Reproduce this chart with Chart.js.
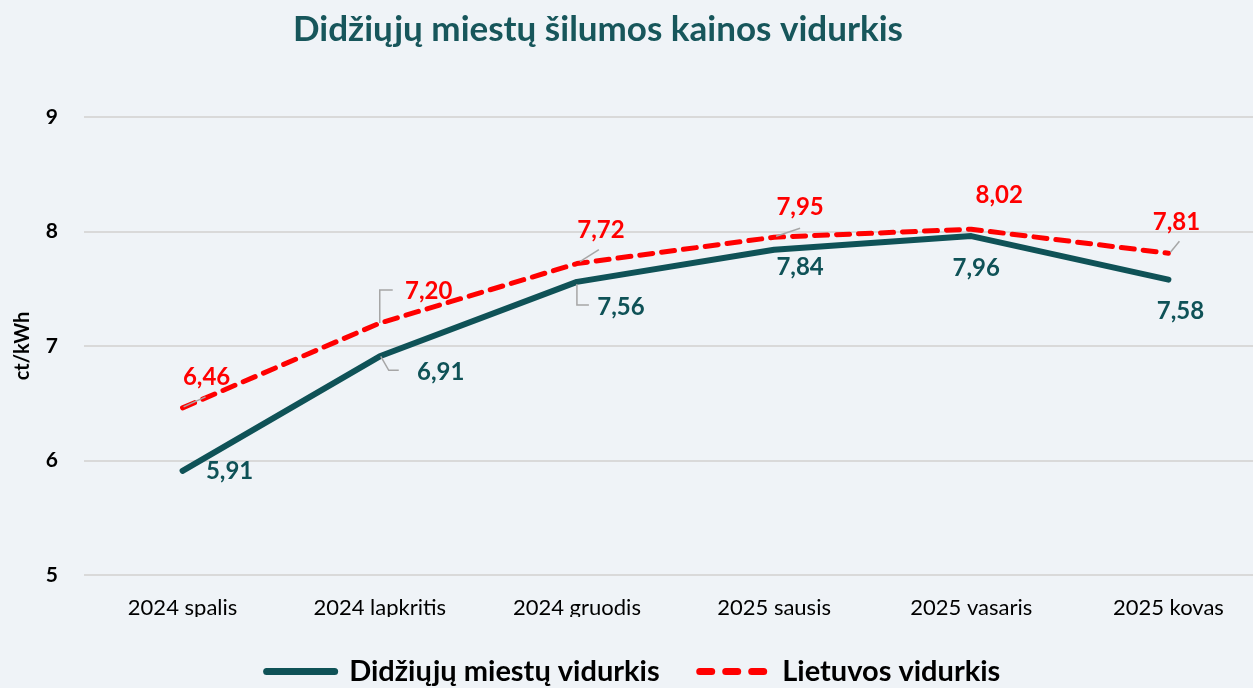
<!DOCTYPE html>
<html lang="lt">
<head>
<meta charset="utf-8">
<title>Didžiųjų miestų šilumos kainos vidurkis</title>
<script src="https://cdn.jsdelivr.net/npm/chart.js@4.4.1/dist/chart.umd.min.js"></script>
<style>
  html, body { margin: 0; padding: 0; background: #eff3f7; overflow: hidden; }
  #wrap { position: relative; width: 1267px; height: 688px; }
</style>
</head>
<body>
<div id="wrap"><canvas id="myChart"></canvas></div>
<script>
const categories = ['2024 spalis', '2024 lapkritis', '2024 gruodis', '2025 sausis', '2025 vasaris', '2025 kovas']
const bigCities = [5.91, 6.91, 7.56, 7.84, 7.96, 7.58]
const lithuania = [6.46, 7.2, 7.72, 7.95, 8.02, 7.81]
const yMin = 5
const yMax = 9

const TEAL = '#0f5257'
const RED = '#ff0000'
const FONT = 'Lato, Carlito, Calibri, sans-serif'

// label centre offsets from the point, and leader lines (null = none)
const tealLabelOffsets = [[47, 0], [61, 16], [44, 25], [26, 17], [5, 32], [12, 32]]
const tealLeaders = [null, [[1, 0], [9, 14], [19, 14]], [[0, 2], [0, 23], [12, 23]], null, null, null]
const redLabelOffsets = [[24, -31], [49, -32], [24, -33], [26, -30], [28, -34], [8, -31]]
const redLeaders = [[[1, -1], [23, -11]], [[0, 0], [0, -33], [13, -33]], [[3, -2], [22, -14]], [[2, -1], [26, -9]], null, [[2, -1], [11, -12]]]

const fmt = v => v.toFixed(2).replace('.', ',')

const titlePlugin = {
  id: 'customTitle',
  afterDraw(chart) {
    const ctx = chart.ctx
    ctx.save()
    ctx.font = 'bold 35px ' + FONT
    ctx.fillStyle = '#17565b'
    ctx.textAlign = 'center'
    ctx.textBaseline = 'middle'
    ctx.fillText('Didžiųjų miestų šilumos kainos vidurkis', 598, 30)
    ctx.restore()
  },
}

const labelPlugin = {
  id: 'valueLabels',
  afterDatasetsDraw(chart) {
    const ctx = chart.ctx
    const setups = [
      { offsets: tealLabelOffsets, leaders: tealLeaders, color: TEAL },
      { offsets: redLabelOffsets, leaders: redLeaders, color: RED },
    ]
    chart.data.datasets.forEach((ds, di) => {
      const meta = chart.getDatasetMeta(di)
      const s = setups[di]
      meta.data.forEach((pt, i) => {
        const lead = s.leaders[i]
        ctx.save()
        if (lead) {
          ctx.strokeStyle = '#a6a6a6'
          ctx.lineWidth = 1.5
          ctx.beginPath()
          lead.forEach(([dx, dy], k) => {
            if (k === 0) ctx.moveTo(pt.x + dx, pt.y + dy)
            else ctx.lineTo(pt.x + dx, pt.y + dy)
          })
          ctx.stroke()
        }
        ctx.font = 'bold 24px ' + FONT
        ctx.fillStyle = s.color
        ctx.textAlign = 'center'
        ctx.textBaseline = 'middle'
        const [ox, oy] = s.offsets[i]
        ctx.fillText(fmt(ds.data[i]), pt.x + ox, pt.y + oy)
        ctx.restore()
      })
    })
  },
}

new Chart(document.getElementById('myChart'), {
  type: 'line',
  data: {
    labels: categories,
    datasets: [
      {
        label: 'Didžiųjų miestų vidurkis',
        data: bigCities,
        borderColor: TEAL,
        backgroundColor: TEAL,
        borderWidth: 6,
        borderCapStyle: 'round',
        borderJoinStyle: 'round',
        pointRadius: 0,
        tension: 0,
      },
      {
        label: 'Lietuvos vidurkis',
        data: lithuania,
        borderColor: RED,
        backgroundColor: RED,
        borderWidth: 5,
        borderDash: [13, 9],
        borderCapStyle: 'round',
        borderJoinStyle: 'round',
        pointRadius: 0,
        tension: 0,
      },
    ],
  },
  options: {
    responsive: true,
    maintainAspectRatio: false,
    animation: false,
    events: [],
    layout: { padding: { top: 117, right: 0, bottom: -8, left: 0 } },
    scales: {
      x: {
        offset: true,
        grid: { display: false, drawTicks: false, offset: true },
        border: { display: false },
        ticks: { color: '#000', font: { family: FONT, size: 22 }, padding: 20 },
        afterFit: s => { s.height = 42 },
      },
      y: {
        min: yMin,
        max: yMax,
        grid: { color: '#d9d9d9', lineWidth: 2, drawTicks: false },
        border: { display: false },
        ticks: { stepSize: 1, color: '#000', font: { family: FONT, size: 21, weight: 'bold' }, padding: 26 },
        title: {
          display: true,
          text: 'ct/kWh',
          color: '#000',
          font: { family: FONT, size: 20, weight: 'bold' },
          padding: { top: 11, bottom: 0 },
        },
        afterFit: s => { s.width = 84 },
      },
    },
    plugins: {
      title: { display: false },
      tooltip: { enabled: false },
      legend: {
        position: 'bottom',
        labels: {
          color: '#000',
          font: { family: FONT, size: 29, weight: 'bold' },
          usePointStyle: true,
          pointStyle: 'line',
          pointStyleWidth: 68,
          padding: 40,
          generateLabels: chart => Chart.defaults.plugins.legend.labels.generateLabels(chart).map(item => ({
            ...item,
            lineWidth: 7,
            lineCap: 'round',
            lineDash: item.datasetIndex === 1 ? [12, 14] : [],
          })),
        },
      },
    },
  },
  plugins: [titlePlugin, labelPlugin],
})
</script>
</body>
</html>
